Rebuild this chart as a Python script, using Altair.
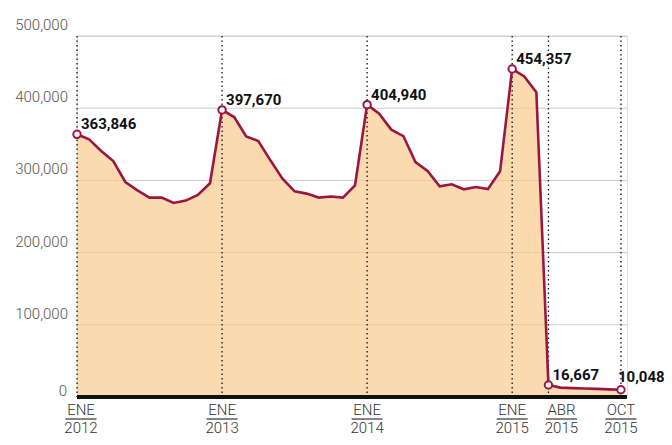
import altair as alt
import pandas as pd

# Monthly values, Jan 2012 - Oct 2015
values_2012 = [363846, 356800, 340700, 326900, 297800, 286300, 276200, 276200, 268700, 272000, 279800, 296000]
values_2013 = [397670, 387700, 361000, 354500, 327800, 302500, 284900, 281700, 276200, 277600, 276200, 293200]
values_2014 = [404940, 392400, 370300, 361400, 325400, 313000, 291800, 294600, 287700, 290900, 288100, 312600]
values_2015 = [454357, 444000, 422300, 16667, 13000, 12300, 11800, 11200, 10600, 10048]

years = [2012, 2013, 2014, 2015]
series = [values_2012, values_2013, values_2014, values_2015]

# Highlighted months (month index from Jan 2012)
marker_idx = [0, 12, 24, 36, 39, 45]
marker_values = [363846, 397670, 404940, 454357, 16667, 10048]
marker_month = ["ENE", "ENE", "ENE", "ENE", "ABR", "OCT"]
marker_year = ["2012", "2013", "2014", "2015", "2015", "2015"]

y_ticks = [0, 100000, 200000, 300000, 400000, 500000]
y_top = 500000

rows = []
i = 0
for yr, vals in zip(years, series):
    for v in vals:
        rows.append({"idx": i, "value": v})
        i += 1
df = pd.DataFrame(rows)

mk = pd.DataFrame({
    "idx": marker_idx,
    "value": marker_values,
    "month": marker_month,
    "year": marker_year,
})
mk["top"] = y_top
mk["zero"] = 0

ticks_df = pd.DataFrame({"tick": y_ticks})

W, H = 550, 361
LINE = "#9b1742"
FONT = "Roboto"

xscale = alt.Scale(domain=[0, 45.5], nice=False, zero=False)
yscale = alt.Scale(domain=[0, y_top], nice=False)


def X(field="idx:Q"):
    return alt.X(field, scale=xscale, axis=None)


def Y(field):
    return alt.Y(field, scale=yscale, axis=None)


# custom y axis: grid + labels
grid = alt.Chart(ticks_df).mark_rule(color="#cccccc", strokeWidth=1).encode(y=Y("tick:Q"))

ylabels = alt.Chart(ticks_df).transform_filter("datum.tick > 0").mark_text(
    align="right", baseline="alphabetic", dy=-6, font=FONT, fontSize=15,
    fontWeight=300, color="#555555",
).encode(y=Y("tick:Q"), x=alt.value(-9), text=alt.Text("tick:Q", format=",d"))

ylabel0 = alt.Chart(ticks_df).transform_filter("datum.tick == 0").mark_text(
    align="right", baseline="alphabetic", dy=-1, font=FONT, fontSize=15,
    fontWeight=300, color="#555555",
).encode(y=Y("tick:Q"), x=alt.value(-10), text=alt.Text("tick:Q", format=",d"))

base = alt.Chart(df)

area = base.mark_area(color="#fbc98a", opacity=0.68).encode(x=X(), y=Y("value:Q"))

rules = alt.Chart(mk).mark_rule(
    strokeDash=[1.5, 3], color="#111111", strokeWidth=1.3
).encode(x=X(), y=Y("top:Q"), y2="zero:Q")

line = base.mark_line(color=LINE, strokeWidth=2.6).encode(x=X(), y=Y("value:Q"))

baseline = alt.Chart(mk).mark_rule(color="#111111", strokeWidth=3).encode(y=Y("zero:Q"))

points = alt.Chart(mk).mark_point(
    shape="circle", filled=True, fill="white", stroke=LINE, strokeWidth=2, size=55, opacity=1
).encode(x=X(), y=Y("value:Q"))

label_style = dict(align="left", baseline="alphabetic", font=FONT, fontWeight="bold",
                   fontSize=15, color="#111111")

labels = alt.Chart(mk).transform_filter("datum.month != 'OCT'").mark_text(
    dx=4, dy=-5, **label_style
).encode(x=X(), y=Y("value:Q"), text=alt.Text("value:Q", format=","))

label_last = alt.Chart(mk).transform_filter("datum.month == 'OCT'").mark_text(
    dx=-3, dy=-8, **label_style
).encode(x=X(), y=Y("value:Q"), text=alt.Text("value:Q", format=","))


def tick_labels(filter_expr, nudge):
    src = alt.Chart(mk).transform_filter(filter_expr)
    month_t = src.mark_text(
        align="center", baseline="middle", dx=nudge, font=FONT, fontSize=15,
        fontWeight=300, color="#333333",
    ).encode(x=X(), y=alt.value(H + 13), text="month:N")
    year_t = src.mark_text(
        align="center", baseline="middle", dx=nudge, font=FONT, fontSize=15,
        fontWeight=300, color="#333333",
    ).encode(x=X(), y=alt.value(H + 31), text="year:N")
    under = src.mark_rule(
        color="#333333", strokeWidth=1.2, xOffset=nudge - 15.5, x2Offset=nudge + 15.5,
    ).encode(x=X(), x2="idx:Q", y=alt.value(H + 22))
    return [month_t, under, year_t]


normal = tick_labels("datum.month != 'ABR' && datum.year != '2012'", 0)
first = tick_labels("datum.year == '2012'", 4)
abr = tick_labels("datum.month == 'ABR'", 13)

chart = alt.layer(
    grid, area, rules, line, baseline, points, labels, label_last, ylabels, ylabel0,
    *normal, *first, *abr
).properties(
    width=W,
    height=H,
    padding={"left": 69, "top": 28, "right": 37, "bottom": 38},
    autosize=alt.AutoSizeParams(type="none"),
)

chart.save("out.html", embed_options={"renderer": "svg", "actions": False})
